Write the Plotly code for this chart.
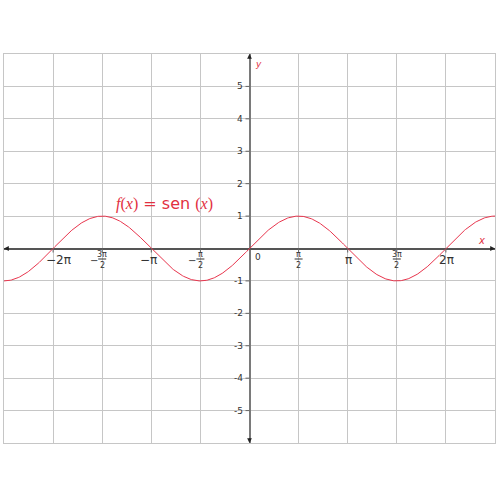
import numpy as np
import plotly.graph_objects as go

PI = np.pi
# Function plotted: f(x) = sen(x) over [-2.5π, 2.5π]
x_range = [-2.5 * PI, 2.5 * PI]
y_range = [-6, 6]
x_vals = np.linspace(x_range[0], x_range[1], 600)
y_vals = np.sin(x_vals)

# Tick labels
y_ticks = [5, 4, 3, 2, 1, -1, -2, -3, -4, -5]
x_int_ticks = [-2 * PI, -PI, PI, 2 * PI]
x_int_labels = ["\u22122\u03c0", "\u2212\u03c0", "\u03c0", "2\u03c0"]
x_int_shift = [5, -3, 1, 1]
x_frac_ticks = [-1.5 * PI, -0.5 * PI, 0.5 * PI, 1.5 * PI]
x_frac_num = ["3\u03c0", "\u03c0", "\u03c0", "3\u03c0"]
x_frac_neg = [True, True, False, False]

RED = "#e2303f"
AX = "#666666"
GRID = "#c6c6c6"
TXT = "#333333"

fig = go.Figure()
fig.add_trace(go.Scatter(x=x_vals, y=y_vals, mode="lines",
                         line=dict(color="#e8354d", width=1), hoverinfo="skip"))

annotations = []
shapes = []

# y tick labels and tick marks
for v in y_ticks:
    annotations.append(dict(x=0, y=v, text=str(v) if v > 0 else "-" + str(-v),
                            showarrow=False, xanchor="right", yanchor="middle",
                            xshift=-5, font=dict(size=9, color=TXT, family="DejaVu Sans")))
    shapes.append(dict(type="line", xref="x", yref="y", xsizemode="pixel", xanchor=0,
                       x0=-4, x1=0, y0=v, y1=v, line=dict(color=AX, width=1)))

# x tick marks at every π/2 except 0
for v in x_int_ticks + x_frac_ticks:
    shapes.append(dict(type="line", xref="x", yref="y", ysizemode="pixel", yanchor=0,
                       x0=v, x1=v, y0=-4, y1=0, line=dict(color=AX, width=1)))

# integer multiples of π labels
for v, lab, sh in zip(x_int_ticks, x_int_labels, x_int_shift):
    annotations.append(dict(x=v, y=0, text=lab, showarrow=False, xanchor="center",
                            yanchor="middle", xshift=sh, yshift=-11,
                            font=dict(size=12, color=TXT, family="DejaVu Sans")))

# fractional labels
for v, num, neg in zip(x_frac_ticks, x_frac_num, x_frac_neg):
    annotations.append(dict(x=v, y=0, text=num, showarrow=False, xanchor="center",
                            yanchor="middle", yshift=-5.5,
                            font=dict(size=8, color=TXT, family="DejaVu Sans")))
    annotations.append(dict(x=v, y=0, text="2", showarrow=False, xanchor="center",
                            yanchor="middle", yshift=-16.5,
                            font=dict(size=8, color=TXT, family="DejaVu Sans")))
    shapes.append(dict(type="line", xref="x", yref="y", xsizemode="pixel",
                       ysizemode="pixel", xanchor=v, yanchor=0,
                       x0=-4, x1=4, y0=-10.5, y1=-10.5, line=dict(color=TXT, width=1)))
    if neg:
        annotations.append(dict(x=v, y=0, text="\u2212", showarrow=False,
                                xanchor="center", yanchor="middle", xshift=-8, yshift=-12,
                                font=dict(size=10, color=TXT, family="DejaVu Sans")))

# origin label
annotations.append(dict(x=0, y=0, text="0", showarrow=False, xanchor="left",
                        yanchor="middle", xshift=3, yshift=-8,
                        font=dict(size=9, color=TXT, family="DejaVu Sans")))

# axis names
annotations.append(dict(x=0, y=6, text="<i>y</i>", showarrow=False, xanchor="left",
                        yanchor="top", xshift=3, yshift=-3,
                        font=dict(size=9, color=RED, family="DejaVu Sans")))
annotations.append(dict(x=2.5 * PI, y=0, text="<i>x</i>", showarrow=False,
                        xanchor="right", yanchor="bottom", xshift=-8, yshift=1,
                        font=dict(size=10, color=RED, family="DejaVu Sans")))

# arrowheads at axis ends
for (ax_x, ax_y, dx, dy) in [(0, 6, 0, 6), (0, -6, 0, -6),
                             (2.5 * PI, 0, -6, 0), (-2.5 * PI, 0, 6, 0)]:
    annotations.append(dict(x=ax_x, y=ax_y, ax=dx, ay=dy, text="", showarrow=True,
                            arrowhead=2, arrowsize=0.8, arrowwidth=1.2,
                            arrowcolor="#222222", standoff=0))

# function label
annotations.append(dict(
    x=-2.72, y=1.38,
    text="<span style='font-family:Liberation Serif'><i>f</i>(<i>x</i>)</span>"
         " = sen <span style='font-family:Liberation Serif'>(<i>x</i>)</span>",
    showarrow=False, xanchor="center", yanchor="middle",
    font=dict(size=16, color=RED, family="DejaVu Sans")))

fig.update_layout(
    width=500, height=500,
    margin=dict(l=4, r=5, t=54, b=57, autoexpand=False),
    paper_bgcolor="white", plot_bgcolor="white",
    showlegend=False,
    xaxis=dict(range=x_range, tick0=0, dtick=PI / 2, showgrid=True, gridcolor=GRID,
               gridwidth=1, showticklabels=False, ticks="", zeroline=True,
               zerolinecolor="#7a7a7a", zerolinewidth=2, showline=True, mirror=True,
               linecolor=GRID, linewidth=1, fixedrange=True),
    yaxis=dict(range=y_range, tick0=0, dtick=1, showgrid=True, gridcolor=GRID,
               gridwidth=1, showticklabels=False, ticks="", zeroline=True,
               zerolinecolor="#555555", zerolinewidth=1.5, showline=True, mirror=True,
               linecolor=GRID, linewidth=1, fixedrange=True),
    annotations=annotations,
    shapes=shapes,
)

fig.write_html("out.html",
               config={"displayModeBar": False},
               post_script="document.body.style.margin='0px';"
                           "document.body.style.overflow='hidden';")
